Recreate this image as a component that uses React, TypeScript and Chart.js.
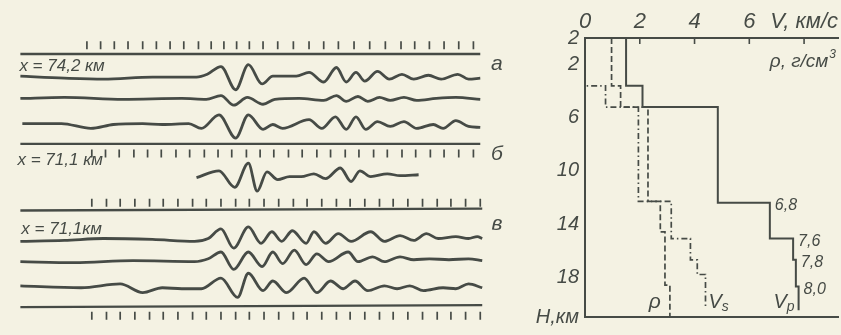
import React, { useEffect, useRef } from "react";
import { Chart, registerables } from "chart.js";

Chart.register(...registerables);

const INK = "#464b46";
const PAPER = "#f4f2e3";
const FONT = "'Liberation Sans', 'DejaVu Sans', Arial, sans-serif";

// ---------- Seismograms: [time, amplitude (up +)] ----------
const traceA1: number[][] = [[15,1],[60,-1],[100,-2],[150,0],[195,0],[206,3],[220,11],[235,-13],[248,13],[262,-7],[273,1],[297,1],[310,5],[325,-5],[338,10],[348,-5],[358,5],[367,-4],[380,6],[392,-2],[405,3],[417,-2],[432,2],[445,-2],[462,3],[473,-2],[485,-1]];
const traceA2: number[][] = [[15,1],[60,2],[120,0],[180,1],[205,0],[220,4],[233,-6],[247,2],[263,-5],[275,0],[300,1],[325,-1],[338,4],[348,-2],[360,3],[370,-2],[382,2],[393,-1],[407,2],[420,-1],[440,1],[460,2],[485,0]];
const traceA3: number[][] = [[17,1],[57,1],[87,-4],[110,0],[140,1],[160,0],[187,1],[200,-4],[218,10],[235,-14],[248,10],[263,-5],[273,0],[283,-4],[310,5],[323,-4],[337,8],[348,-5],[358,8],[368,-5],[380,3],[393,-2],[407,3],[420,-4],[437,0],[447,-4],[460,4],[473,-2],[485,-3]];
const traceB: number[][] = [[195,-1],[218,6],[234,-11],[248,14],[257,-15],[267,5],[278,-3],[290,0],[302,0],[315,3],[327,-2],[342,9],[353,-5],[362,6],[373,0],[390,3],[403,1],[422,2]];
const traceV1: number[][] = [[15,-1],[60,0],[100,2],[150,1],[193,-1],[207,2],[220,12],[233,-8],[248,14],[261,-3],[272,9],[282,-1],[293,10],[307,-3],[315,9],[327,-3],[340,7],[353,-1],[373,9],[387,-1],[403,5],[417,0],[430,7],[442,2],[460,4],[473,2],[482,4],[487,2]];
const traceV2: number[][] = [[15,0],[70,-1],[130,1],[193,0],[207,3],[220,10],[233,-8],[248,10],[262,-5],[273,10],[283,-2],[295,12],[307,-3],[318,8],[330,0],[350,10],[360,0],[375,5],[387,0],[403,5],[417,2],[433,3],[453,2],[473,3],[487,1]];
const traceV3: number[][] = [[15,1],[77,-1],[117,3],[140,-6],[160,-1],[180,-2],[200,-2],[220,9],[237,-11],[248,14],[263,-4],[273,6],[287,-6],[305,9],[318,-6],[332,6],[345,-2],[357,6],[370,-4],[387,1],[400,-2],[413,1],[427,-4],[447,-1],[460,-2],[473,3],[487,-1]];
const refLineA: number[][] = [[15,0],[485,0]];
const refLineV: number[][] = [[15,-1],[487,1]];

// time marks
const marksA = [83,97,111,125,140,154,168,182,197,210,223,236,249,263,278,294,310,325,340,356,372,388,404,418,433,448,463,478];
const marksB = [88,102,116,131,145,159,174,188,203,217,231,246,260,274,289,303,318,332,347,361,376,390,405,419,434,448,463,478];
const marksC = [88,103,117,132,147,161,176,191,205,220,235,249,264,279,294,308,323,338,352,367,382,396,411,426,441,455,470,485];

// ---------- Velocity / density profile ----------
const velocityTicks = [0, 2, 4, 6, 8];
const velocityTickLabels = ["0", "2", "4", "6", "V, км/с"];
const depthTicks = [0, 2, 6, 10, 14, 18, 21];
const depthTickLabels = ["2", "2", "6", "10", "14", "18", "Н,км"];

const vpTop = [0, 3.6, 5.2, 12.4, 15.1, 16.7, 18.7];
const vpValue = [1.5, 2.1, 4.85, 6.75, 7.6, 7.7, 7.8];
const vpBottom = 20.5;
const vpLayerLabels = ["", "", "", "6,8", "7,6", "7,8", "8,0"];

const vsTop = [0, 3.6, 5.2, 12.3, 15.1, 16.7, 17.8];
const vsValue = [0, 0.75, 1.95, 3.15, 3.85, 4.1, 4.4];
const vsBottom = 20.3;

const rhoTop = [0, 3.6, 5.2, 12.3, 14.6, 18.6];
const rhoValue = [0.97, 1.3, 2.3, 2.75, 2.92, 3.1];
const rhoBottom = 21;

// ---------- layout ----------
const baselines = { a1: 74, a2: 97, a3: 123, b: 177, v1: 243, v2: 265, v3: 291, refA1: 50, refA2: 143, refV1: 211, refV2: 311 };
const markRows = [
  { marks: marksA, y: 41 },
  { marks: marksB, y: 153 },
  { marks: marksC, y: 204 },
  { marks: marksC, y: 321 },
];
const seisLabels = [
  { text: "x = 74,2 км", t: 14, y: 63, size: 17, align: "left" },
  { text: "x = 71,1 км", t: 12, y: 160, size: 17, align: "left" },
  { text: "x = 71,1км", t: 16, y: 231, size: 17, align: "left" },
  { text: "а", t: 502, y: 60, size: 21, align: "center" },
  { text: "б", t: 502, y: 154, size: 21, align: "center" },
  { text: "в", t: 502, y: 226, size: 21, align: "center" },
];

const toPoints = (trace: number[][], base: number) => trace.map(([t, a]) => ({ x: t, y: base - a }));

const traceDs = (trace: number[][], base: number, width = 2.8) => ({
  data: toPoints(trace, base),
  showLine: true,
  borderColor: INK,
  borderWidth: width,
  pointRadius: 0,
  cubicInterpolationMode: "monotone",
  fill: false,
});

const stepPoints = (tops: number[], vals: number[], bottom: number) => {
  const pts = tops.map((d, i) => ({ x: vals[i], y: d }));
  pts.push({ x: vals[vals.length - 1], y: bottom });
  return pts;
};

const seisLabelPlugin = {
  id: "seisLabels",
  afterDatasetsDraw(chart: any) {
    const { ctx, scales } = chart;
    ctx.save();
    ctx.fillStyle = INK;
    ctx.textBaseline = "middle";
    seisLabels.forEach((l) => {
      ctx.font = `italic ${l.size}px ${FONT}`;
      ctx.textAlign = l.align;
      ctx.fillText(l.text, scales.x.getPixelForValue(l.t), scales.y.getPixelForValue(l.y));
    });
    ctx.restore();
  },
};

const drawSub = (ctx: any, main: string, sub: string, x: number, y: number, align: string, size: number) => {
  ctx.font = `italic ${size}px ${FONT}`;
  const wm = ctx.measureText(main).width;
  ctx.font = `italic ${Math.round(size * 0.7)}px ${FONT}`;
  const ws = ctx.measureText(sub).width;
  const start = align === "right" ? x - wm - ws : x;
  ctx.textAlign = "left";
  ctx.font = `italic ${size}px ${FONT}`;
  ctx.fillText(main, start, y);
  ctx.font = `italic ${Math.round(size * 0.7)}px ${FONT}`;
  ctx.fillText(sub, start + wm, y + size * 0.25);
};

const profilePlugin = {
  id: "profileAnnotations",
  afterDatasetsDraw(chart: any) {
    const { ctx, chartArea, scales } = chart;
    const x = scales.x;
    const y = scales.y;
    ctx.save();
    ctx.strokeStyle = INK;
    ctx.fillStyle = INK;
    ctx.lineWidth = 1.6;
    velocityTicks.forEach((v) => {
      if (v === 0) return;
      const px = x.getPixelForValue(v);
      ctx.beginPath();
      ctx.moveTo(px, chartArea.top);
      ctx.lineTo(px, chartArea.top + 6);
      ctx.stroke();
    });
    ctx.textBaseline = "middle";
    // density unit label
    ctx.font = `italic 19px ${FONT}`;
    const main = "ρ, г/см";
    const wm = ctx.measureText(main).width;
    ctx.font = `italic 12px ${FONT}`;
    const ws = ctx.measureText("3").width;
    const sx = chartArea.right - 3 - wm - ws;
    const sy = chartArea.top + 24;
    ctx.textAlign = "left";
    ctx.font = `italic 19px ${FONT}`;
    ctx.fillText(main, sx, sy);
    ctx.font = `italic 12px ${FONT}`;
    ctx.fillText("3", sx + wm + 1, sy - 7);
    // Vp layer values
    ctx.font = `italic 16px ${FONT}`;
    vpLayerLabels.forEach((lab, i) => {
      if (!lab) return;
      ctx.textAlign = "left";
      ctx.fillText(lab, x.getPixelForValue(vpValue[i]) + 5, y.getPixelForValue(vpTop[i]) + 3);
    });
    // curve names
    const ly = y.getPixelForValue(19.9);
    ctx.font = `italic 21px ${FONT}`;
    ctx.textAlign = "right";
    ctx.fillText("ρ", x.getPixelForValue(rhoValue[rhoValue.length - 1]) - 9, ly);
    drawSub(ctx, "V", "s", x.getPixelForValue(vsValue[vsValue.length - 1]) + 3, ly, "left", 20);
    drawSub(ctx, "V", "p", x.getPixelForValue(vpValue[vpValue.length - 1]) - 4, ly, "right", 20);
    ctx.restore();
  },
};

export default function App() {
  const leftRef = useRef<HTMLCanvasElement | null>(null);
  const rightRef = useRef<HTMLCanvasElement | null>(null);

  useEffect(() => {
    document.body.style.margin = "0";
    document.body.style.background = PAPER;

    const markDatasets = markRows.map((r) => ({
      data: r.marks.map((t) => ({ x: t, y: r.y })),
      showLine: false,
      pointStyle: "line",
      rotation: 90,
      pointRadius: 4,
      pointBorderWidth: 1.7,
      pointBorderColor: INK,
      pointBackgroundColor: INK,
    }));

    const left = new Chart(leftRef.current as HTMLCanvasElement, {
      type: "scatter",
      data: {
        datasets: [
          traceDs(refLineA, baselines.refA1, 2.3),
          traceDs(traceA1, baselines.a1),
          traceDs(traceA2, baselines.a2),
          traceDs(traceA3, baselines.a3),
          traceDs(refLineA, baselines.refA2, 2.3),
          traceDs(traceB, baselines.b),
          traceDs(refLineV, baselines.refV1, 2.3),
          traceDs(traceV1, baselines.v1),
          traceDs(traceV2, baselines.v2),
          traceDs(traceV3, baselines.v3),
          traceDs(refLineV, baselines.refV2, 2.3),
          ...markDatasets,
        ] as any,
      },
      options: {
        animation: false,
        responsive: false,
        events: [],
        layout: { padding: 0 },
        plugins: { legend: { display: false }, tooltip: { enabled: false } },
        scales: {
          x: { type: "linear", min: 0, max: 530, display: false },
          y: { type: "linear", min: 0, max: 335, reverse: true, display: false },
        },
      },
      plugins: [seisLabelPlugin],
    } as any);

    const tickFont = { family: FONT, size: 22, style: "italic" as const };
    const right = new Chart(rightRef.current as HTMLCanvasElement, {
      type: "scatter",
      data: {
        datasets: [
          {
            label: "ρ",
            data: stepPoints(rhoTop, rhoValue, rhoBottom),
            showLine: true,
            stepped: "after",
            borderColor: INK,
            borderWidth: 1.7,
            borderDash: [6, 3],
            pointRadius: 0,
          },
          {
            label: "Vs",
            data: stepPoints(vsTop, vsValue, vsBottom),
            showLine: true,
            stepped: "after",
            borderColor: INK,
            borderWidth: 1.7,
            borderDash: [6, 3, 1.5, 3],
            pointRadius: 0,
          },
          {
            label: "Vp",
            data: stepPoints(vpTop, vpValue, vpBottom),
            showLine: true,
            stepped: "after",
            borderColor: INK,
            borderWidth: 2,
            pointRadius: 0,
          },
        ] as any,
      },
      options: {
        animation: false,
        responsive: false,
        events: [],
        layout: { padding: 0 },
        plugins: { legend: { display: false }, tooltip: { enabled: false } },
        scales: {
          x: {
            type: "linear",
            position: "top",
            min: 0,
            max: 9.24,
            afterBuildTicks: (s: any) => {
              s.ticks = velocityTicks.map((v) => ({ value: v }));
            },
            afterFit: (s: any) => {
              s.height = 38;
            },
            ticks: {
              autoSkip: false,
              maxRotation: 0,
              padding: 3,
              color: INK,
              font: tickFont,
              callback: (v: number) => velocityTickLabels[velocityTicks.indexOf(v)] ?? "",
            },
            grid: { display: false, drawTicks: false },
            border: { display: true, color: INK, width: 2 },
          },
          y: {
            type: "linear",
            position: "left",
            reverse: true,
            min: 0,
            max: 21,
            afterBuildTicks: (s: any) => {
              s.ticks = depthTicks.map((v) => ({ value: v }));
            },
            afterFit: (s: any) => {
              s.width = 55;
            },
            ticks: {
              autoSkip: false,
              padding: 6,
              color: INK,
              font: { family: FONT, size: 20, style: "italic" as const },
              callback: (v: number) => depthTickLabels[depthTicks.indexOf(v)] ?? "",
            },
            grid: { display: false, drawTicks: false },
            border: { display: true, color: INK, width: 2 },
          },
          x2: {
            type: "linear",
            position: "bottom",
            display: true,
            afterFit: (s: any) => {
              s.height = 8;
            },
            ticks: { display: false },
            grid: { display: false, drawTicks: false },
            border: { display: true, color: INK, width: 2 },
          },
        },
      },
      plugins: [profilePlugin],
    } as any);

    return () => {
      left.destroy();
      right.destroy();
    };
  }, []);

  return (
    <div style={{ position: "fixed", left: 0, top: 0, width: 841, height: 335, background: PAPER, overflow: "hidden" }}>
      <canvas ref={leftRef} width={530} height={335} style={{ position: "absolute", left: 0, top: 0 }} />
      <canvas ref={rightRef} width={311} height={335} style={{ position: "absolute", left: 530, top: 0 }} />
    </div>
  );
}
